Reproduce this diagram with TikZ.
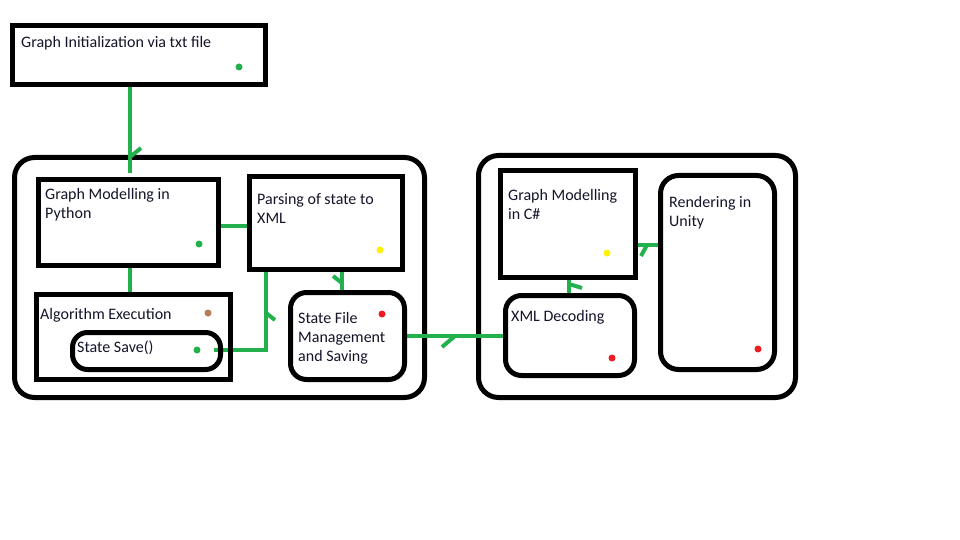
\documentclass[tikz,border=0pt]{standalone}
\usepackage{fontspec}
\setmainfont{Carlito}
\definecolor{pgreen}{HTML}{22B14C}
\definecolor{pyellow}{HTML}{FFF200}
\definecolor{pred}{HTML}{ED1C24}
\definecolor{pbrown}{HTML}{B97A57}
\definecolor{ink}{HTML}{14142A}
\pgfdeclarelayer{back}
\pgfdeclarelayer{mid}
\pgfsetlayers{back,mid,main}
\tikzset{
  frame/.style={draw=black, line width=5pt, inner sep=0pt, outer sep=0pt},
  rframe/.style={frame, rounded corners=#1},
  rframe/.default=16pt,
  link/.style={draw=pgreen, line width=4pt},
  barb/.style={draw=pgreen, line width=4pt},
  dot/.style={circle, fill=#1, inner sep=0pt, minimum size=7pt},
  % multi-line labels sit on the baseline of their last line
  lbl/.style={font=\fontsize{16}{19}\selectfont, text=ink, inner sep=0pt,
              anchor=base west, align=left},
}
\begin{document}
\begin{tikzpicture}[x=1pt,y=-1pt]
\useasboundingbox (0,0) rectangle (960,540);

% outer groups
\begin{pgfonlayer}{back}
  \fill[white] (0,0) rectangle (960,540);
  \node[rframe=20pt, minimum width=410pt, minimum height=240pt] (pyside) at (219.5,277.5) {};
  \node[rframe=20pt, minimum width=317pt, minimum height=242pt] (csside) at (637,276.5) {};
\end{pgfonlayer}

% stages
\node[frame, minimum width=253pt, minimum height=59pt] (init) at (139,55) {};
\node[frame, minimum width=180pt, minimum height=85.5pt] (gmp) at (128.5,222.25) {};
\node[frame, minimum width=152.5pt, minimum height=93pt] (parse) at (325.75,223) {};
\node[frame, minimum width=194pt, minimum height=85pt] (algo) at (133.5,337) {};
\node[rframe=15pt, minimum width=148pt, minimum height=37pt] (save) at (146.5,351) {};
\node[rframe, minimum width=114pt, minimum height=87pt] (store) at (347.5,336) {};
\node[frame, minimum width=135.5pt, minimum height=107pt] (gmc) at (567.75,224) {};
\node[rframe, minimum width=129pt, minimum height=80pt] (xmld) at (570,335.5) {};
\node[rframe=18pt, minimum width=114pt, minimum height=194pt] (render) at (717.5,272.5) {};

% status dots
\node[dot=pgreen]  (dinit)   at (239,67)  {};
\node[dot=pgreen]  (dgmp)    at (199,244) {};
\node[dot=pyellow] (dparse)  at (380,250) {};
\node[dot=pbrown]  (dalgo)   at (208,313) {};
\node[dot=pgreen]  (dsave)   at (197,350) {};
\node[dot=pred]    (dstore)  at (382,314) {};
\node[dot=pyellow] (dgmc)    at (607,253) {};
\node[dot=pred]    (dxmld)   at (612,358) {};
\node[dot=pred]    (drender) at (758,349) {};

% labels
\node[lbl] (tinit)   at (21,48)   {Graph Initialization via txt file};
\node[lbl] (tgmp)    at (45,218)  {Graph Modelling in\\Python};
\node[lbl] (tparse)  at (257,223) {Parsing of state to\\XML};
\node[lbl] (talgo)   at (40,319)  {Algorithm Execution};
\node[lbl] (tsave)   at (77,352)  {State Save()};
\node[lbl] (tstore)  at (298,361) {State File\\Management\\and Saving};
\node[lbl] (tgmc)    at (508,219) {Graph Modelling\\in C\#};
\node[lbl] (trender) at (669,226) {Rendering in\\Unity};
\node[lbl] (txmld)   at (511,321) {XML Decoding};

% rails for the connectors
\coordinate (spine) at (130,0);
\coordinate (r2) at (0,226);
\coordinate (c4) at (266,0);
\coordinate (c5) at (342,0);
\coordinate (r6) at (0,336);
\coordinate (c7) at (569,0);
\coordinate (r8) at (0,245);

% barb roots
\coordinate (k1) at (130,157);
\coordinate (k2) at (266,313);
\coordinate (k3) at (342,283);
\coordinate (k4) at (455,336);
\coordinate (k5) at (569,284);
\coordinate (k6) at (647,245);

\begin{pgfonlayer}{mid}
  \draw[link, shorten >=6pt] (init.south -| spine) -- (gmp.north -| spine);
  \draw[barb] (k1) -- ++(11,-9);
  \draw[link] (gmp.east |- r2) -- (parse.west |- r2);
  \draw[link] (gmp.south -| spine) -- (algo.north -| spine);
  \draw[link, shorten <=13pt] (dsave) -| (parse.south -| c4);
  \draw[barb] (k2) -- ++(9,7);
  \draw[link] (parse.south -| c5) -- (store.north -| c5);
  \draw[barb] (k3) -- ++(-9,-7);
  \draw[link] (store.east |- r6) -- (xmld.west |- r6);
  \draw[barb] (k4) -- ++(-13,11);
  \draw[link] (xmld.north -| c7) -- (gmc.south -| c7);
  \draw[barb] (k5) -- ++(13,4);
  \draw[link] (gmc.east |- r8) -- (render.west |- r8);
  \draw[barb] (k6) -- ++(-6,11);
\end{pgfonlayer}
\end{tikzpicture}
\end{document}
